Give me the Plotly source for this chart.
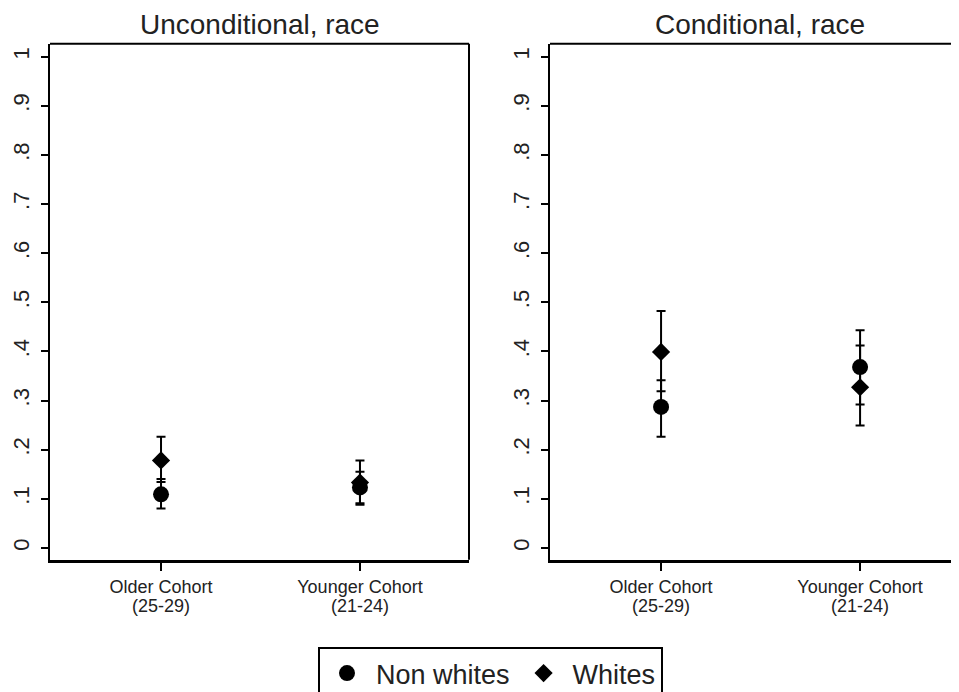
import plotly.graph_objects as go

# ---- data ----
categories = ["Older Cohort|(25-29)", "Younger Cohort|(21-24)"]
panel_titles = ["Unconditional, race", "Conditional, race"]

# Unconditional
uncond_nonwhite = [0.109, 0.123]
uncond_nonwhite_lo = [0.080, 0.091]
uncond_nonwhite_hi = [0.140, 0.155]
uncond_white = [0.178, 0.133]
uncond_white_lo = [0.134, 0.088]
uncond_white_hi = [0.226, 0.178]

# Conditional
cond_nonwhite = [0.287, 0.368]
cond_nonwhite_lo = [0.226, 0.292]
cond_nonwhite_hi = [0.341, 0.443]
cond_white = [0.399, 0.327]
cond_white_lo = [0.319, 0.249]
cond_white_hi = [0.4825, 0.412]

ytick_vals = [0, 0.1, 0.2, 0.3, 0.4, 0.5, 0.6, 0.7, 0.8, 0.9, 1.0]
ytick_text = ["0", ".1", ".2", ".3", ".4", ".5", ".6", ".7", ".8", ".9", "1"]

# page has an 8px body margin; work in screen pixels minus that offset
OFF = 8
W, H = 959 - OFF, 692
FONT = "Liberation Sans, Arial, sans-serif"


def px_x(x):
    return (x - OFF) / W


def px_y(y):
    return (H - (y - OFF)) / H


# tick label text: large glyphs, tight line spacing
ticktext_x = [
    "<br>".join('<span style="font-size:18px">%s</span>' % part for part in c.split("|"))
    for c in categories
]

fig = go.Figure()


def add_series(est, lo, hi, name, symbol, size, xa, ya, showlegend):
    plus = [h - e for h, e in zip(hi, est)]
    minus = [e - l for e, l in zip(est, lo)]
    fig.add_trace(go.Scatter(
        x=categories, y=est, mode="markers", name=name,
        marker=dict(symbol=symbol, size=size, color="black"),
        error_y=dict(type="data", symmetric=False, array=plus, arrayminus=minus,
                     color="black", thickness=2, width=4.5),
        xaxis=xa, yaxis=ya, showlegend=showlegend, legendgroup=name,
    ))


add_series(uncond_nonwhite, uncond_nonwhite_lo, uncond_nonwhite_hi, "Non whites", "circle", 16, "x", "y", True)
add_series(uncond_white, uncond_white_lo, uncond_white_hi, "Whites", "diamond", 14, "x", "y", True)
add_series(cond_nonwhite, cond_nonwhite_lo, cond_nonwhite_hi, "Non whites", "circle", 16, "x2", "y2", False)
add_series(cond_white, cond_white_lo, cond_white_hi, "Whites", "diamond", 14, "x2", "y2", False)

ydom = [px_y(563), px_y(44)]
yrange = [-0.0243, 1.0263]

xcommon = dict(
    type="category", showgrid=False, zeroline=False,
    showline=True, linecolor="black", linewidth=3,
    ticks="outside", ticklen=8, tickwidth=2, tickcolor="black",
    tickvals=categories, ticktext=ticktext_x, ticklabelstandoff=4,
    tickfont=dict(family=FONT, size=15, color="#222"),
)
ycommon = dict(
    range=yrange, domain=ydom, showgrid=False, zeroline=False,
    showline=True, linecolor="black", linewidth=2,
    ticks="outside", ticklen=7, tickwidth=2, tickcolor="black",
    tickvals=ytick_vals, ticktext=ytick_text, tickangle=-90,
    ticklabelstandoff=3,
    tickfont=dict(family=FONT, size=22, color="#222"),
)

fig.update_layout(
    width=W, height=H,
    margin=dict(l=0, r=0, t=0, b=0),
    paper_bgcolor="white", plot_bgcolor="white",
    xaxis=dict(domain=[px_x(50), px_x(469)], range=[-0.558, 1.548], anchor="y", **xcommon),
    yaxis=dict(anchor="x", **ycommon),
    xaxis2=dict(domain=[px_x(550), 1.0], range=[-0.558, 1.497], anchor="y2", **xcommon),
    yaxis2=dict(anchor="x2", **ycommon),
    showlegend=True,
    legend=dict(
        orientation="h", x=px_x(490.5), xanchor="center", y=px_y(651), yanchor="top",
        bordercolor="black", borderwidth=2, bgcolor="white", itemwidth=48,
        font=dict(family=FONT, size=27, color="#222"),
    ),
)

# frame lines
fig.add_shape(type="line", xref="x domain", yref="y domain", x0=0, x1=1, y0=1, y1=1,
              line=dict(color="black", width=2))
fig.add_shape(type="line", xref="x domain", yref="y domain", x0=1, x1=1, y0=0, y1=1,
              line=dict(color="black", width=2))
fig.add_shape(type="line", xref="x2 domain", yref="y2 domain", x0=0, x1=1, y0=1, y1=1,
              line=dict(color="black", width=2))

# panel titles
for xr, t in zip(["x domain", "x2 domain"], panel_titles):
    fig.add_annotation(
        text=t, xref=xr, yref="paper", x=0.5 if xr == "x domain" else 0.5 * 419 / 409,
        y=px_y(25), xanchor="center", yanchor="middle", showarrow=False,
        font=dict(family=FONT, size=28, color="#222"),
    )

fig.write_html("out.html")
